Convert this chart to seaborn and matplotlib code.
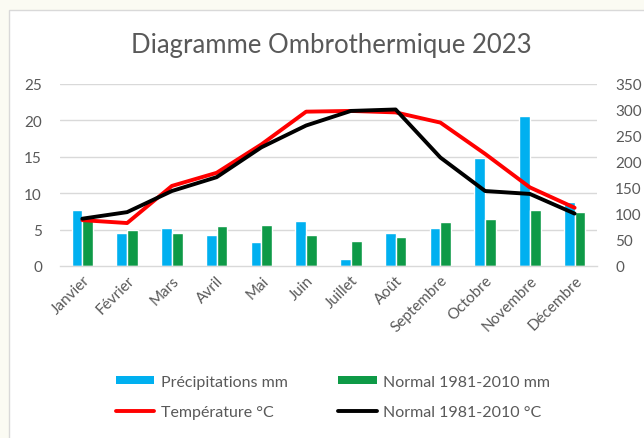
import matplotlib
matplotlib.use("Agg")
import matplotlib.pyplot as plt
import seaborn as sns
import pandas as pd
import numpy as np
from matplotlib.patches import Rectangle, Patch
from matplotlib.lines import Line2D

months = ["Janvier", "Février", "Mars", "Avril", "Mai", "Juin", "Juillet",
          "Août", "Septembre", "Octobre", "Novembre", "Décembre"]
precip_2023 = [107, 64, 74, 59, 46, 87, 13, 64, 74, 207, 288, 124]
precip_normal = [88, 69, 64, 76, 78, 60, 48, 55, 84, 91, 107, 104]
temp_2023 = [6.3, 5.9, 11.0, 12.8, 16.7, 21.2, 21.3, 21.1, 19.7, 15.4, 10.8, 8.0]
temp_normal = [6.5, 7.4, 10.3, 12.2, 16.3, 19.3, 21.3, 21.5, 14.9, 10.3, 9.9, 7.2]

lbl_p = "Précipitations mm"
lbl_pn = "Normal 1981-2010 mm"
lbl_t = "Température °C"
lbl_tn = "Normal 1981-2010 °C"

blue = "#00B0F0"
green = "#0E9A47"
red = "#FF0000"
black = "#000000"
grey_txt = "#595959"
grid_c = "#D9D9D9"

df_bars = pd.DataFrame({
    "mois": months * 2,
    "mm": precip_2023 + precip_normal,
    "serie": [lbl_p] * 12 + [lbl_pn] * 12,
})

sns.set_theme(style="white")
plt.rcParams["font.family"] = ["Lato", "DejaVu Sans"]

fig = plt.figure(figsize=(6.44, 4.39), dpi=100)
fig.patch.set_facecolor("#FBFBF3")
fig.patches.append(Rectangle((9 / 644, -0.05), 1.0, 1 - 11 / 439 + 0.05,
                             transform=fig.transFigure, facecolor="white",
                             edgecolor=grid_c, linewidth=1.0, zorder=-5))

ax = fig.add_axes([60 / 644, 1 - 267 / 439, 537 / 644, 182 / 439])
ax.set_facecolor("none")

# grid lines (aligned with left axis 0..25 step 5 => right 0..350 step 70)
for g in np.arange(70, 351, 70):
    ax.axhline(g, color=grid_c, lw=1.0, zorder=0)

sns.barplot(data=df_bars, x="mois", y="mm", hue="serie", order=months,
            palette=[blue, green], width=0.48, ax=ax, legend=False,
            saturation=1, zorder=2, errorbar=None)
ax.set_ylim(0, 350)
ax.set_xlim(-0.5, 11.5)
ax.set_yticks(np.arange(0, 351, 50))
ax.set_xlabel("")
ax.set_ylabel("")

ax2 = ax.twinx()
sns.lineplot(x=months, y=temp_2023, ax=ax2, color=red, lw=2.8, sort=False)
sns.lineplot(x=months, y=temp_normal, ax=ax2, color=black, lw=2.8, sort=False)
ax2.set_ylim(0, 25)
ax2.set_xlim(-0.5, 11.5)
ax2.set_yticks(np.arange(0, 26, 5))
ax2.set_ylabel("")
ax.yaxis.tick_right()
ax2.yaxis.tick_left()

for a in (ax, ax2):
    for s in a.spines.values():
        s.set_visible(False)
    a.tick_params(length=0, labelsize=11, labelcolor=grey_txt)
ax.spines["bottom"].set_visible(True)
ax.spines["bottom"].set_color(grid_c)
ax.spines["bottom"].set_linewidth(1.0)
ax.tick_params(axis="y", pad=13)
ax2.tick_params(axis="y", pad=13)

ax.set_xticks(range(12))
ax.set_xticklabels(months, rotation=45, ha="right", rotation_mode="anchor",
                   color=grey_txt, fontsize=11)
ax.tick_params(axis="x", pad=5)

fig.text(331 / 644, 1 - 45 / 439, "Diagramme Ombrothermique 2023",
         ha="center", va="center", fontsize=18.5, color=grey_txt)

handles = [Patch(facecolor=blue, edgecolor="none"),
           Line2D([], [], color=red, lw=2.8),
           Patch(facecolor=green, edgecolor="none"),
           Line2D([], [], color=black, lw=2.8)]
labels = [lbl_p, lbl_t, lbl_pn, lbl_tn]
leg = fig.legend(handles, labels, ncol=2, loc="center",
                 bbox_to_anchor=(333 / 644, 1 - 398 / 439), frameon=False,
                 fontsize=11.5, handlelength=2.4, handleheight=0.45,
                 handletextpad=0.4, columnspacing=3.2, labelspacing=1.05)
for t in leg.get_texts():
    t.set_color(grey_txt)

fig.savefig("out.png", dpi=100, facecolor=fig.get_facecolor())
